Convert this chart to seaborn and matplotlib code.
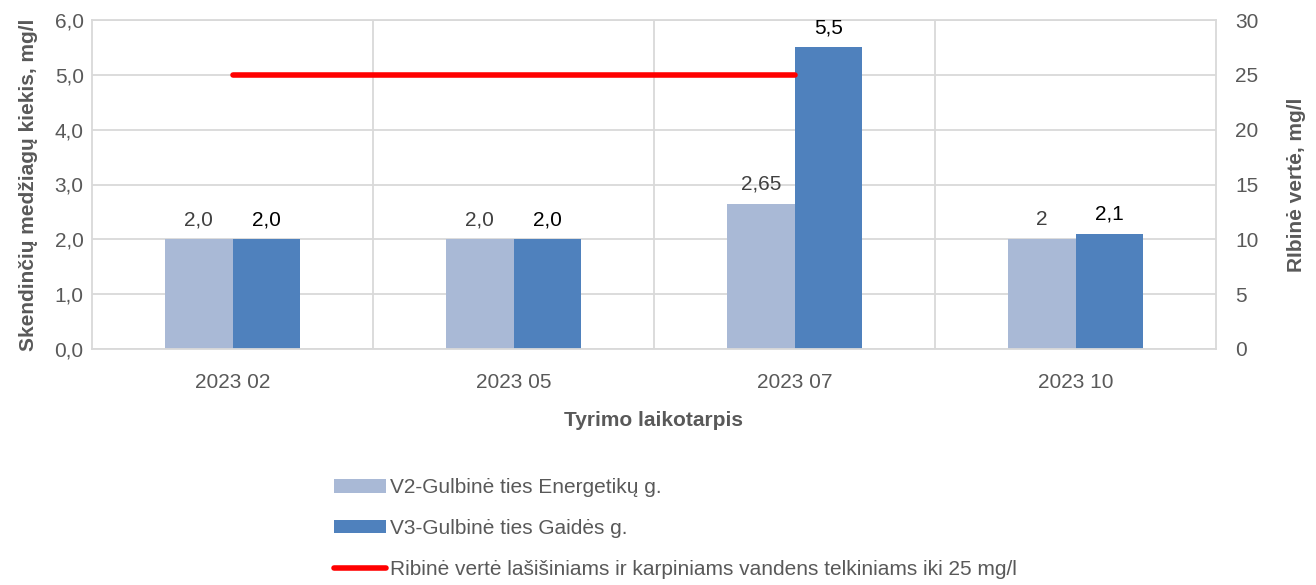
import numpy as np
import pandas as pd
import matplotlib
matplotlib.use("Agg")
import matplotlib.pyplot as plt
import seaborn as sns
from matplotlib.patches import Patch
from matplotlib.lines import Line2D

# data
periods = ['2023 02', '2023 05', '2023 07', '2023 10']
v2_values = [2.0, 2.0, 2.65, 2.0]
v3_values = [2.0, 2.0, 5.5, 2.1]
v2_labels = ['2,0', '2,0', '2,65', '2']
v3_labels = ['2,0', '2,0', '5,5', '2,1']
limit_values = [25, 25, 25, np.nan]

series_names = ['V2-Gulbinė ties Energetikų g.', 'V3-Gulbinė ties Gaidės g.']
limit_name = 'Ribinė vertė lašišiniams ir karpiniams vandens telkiniams iki 25 mg/l'

df = pd.DataFrame({
    'Period': periods * 2,
    'Value': v2_values + v3_values,
    'Series': [series_names[0]] * 4 + [series_names[1]] * 4,
})

sns.set_theme(style='white')
plt.rcParams['font.family'] = ['Liberation Sans', 'DejaVu Sans']

text_col = '#595959'
grid_col = '#d9d9d9'
colors = ['#a9b9d6', '#4f81bd']
fs = 15

fig = plt.figure(figsize=(13.16, 5.85), dpi=100)
ax = fig.add_axes([92 / 1316, 1 - 349 / 585, (1216 - 92) / 1316, (349 - 20) / 585])

sns.barplot(data=df, x='Period', y='Value', hue='Series', palette=colors,
            width=0.48, saturation=1, linewidth=0, ax=ax, legend=False)

ax.set_xlim(-0.5, 3.5)
ax.set_ylim(0, 6)
ax.set_yticks(np.arange(0, 6.1, 1))
ax.set_yticklabels([f'{v:.1f}'.replace('.', ',') for v in np.arange(0, 6.1, 1)])
ax.set_axisbelow(True)
ax.yaxis.grid(True, color=grid_col, linewidth=1.3)
for xv in [0.5, 1.5, 2.5]:
    ax.axvline(xv, color=grid_col, linewidth=1.3, zorder=0)
for s in ax.spines.values():
    s.set_color(grid_col)
    s.set_linewidth(1.3)
ax.tick_params(axis='both', length=0, labelsize=fs, colors=text_col, pad=6)
ax.tick_params(axis='x', pad=17)

ax.set_xlabel('Tyrimo laikotarpis', fontsize=fs, fontweight='bold', color=text_col, labelpad=14)
ax.set_ylabel('Skendinčių medžiagų kiekis, mg/l', fontsize=fs, fontweight='bold', color=text_col, labelpad=12)

# value labels
for i, (a, b) in enumerate(zip(v2_values, v3_values)):
    ax.text(i - 0.12, a + 0.18, v2_labels[i], ha='center', va='bottom', fontsize=fs, color='#404040')
    ax.text(i + 0.12, b + 0.18, v3_labels[i], ha='center', va='bottom', fontsize=fs, color='black')

# secondary axis with the limit line
ax2 = ax.twinx()
sns.lineplot(x=list(range(len(periods))), y=limit_values, color='#ff0000', linewidth=4,
             ax=ax2, legend=False)
for ln in ax2.lines:
    ln.set_solid_capstyle('round')
ax2.set_ylim(0, 30)
ax2.set_yticks(range(0, 31, 5))
ax2.tick_params(axis='y', length=0, labelsize=fs, colors=text_col, pad=14)
ax2.set_ylabel('RIbinė vertė, mg/l', fontsize=fs, fontweight='bold', color=text_col, labelpad=20)
for s in ax2.spines.values():
    s.set_visible(False)

handles = [
    Patch(facecolor=colors[0], edgecolor='none'),
    Patch(facecolor=colors[1], edgecolor='none'),
    Line2D([0], [0], color='#ff0000', linewidth=4, solid_capstyle='round'),
]
leg = fig.legend(handles, series_names + [limit_name], loc='upper left',
                 bbox_to_anchor=(326 / 1316, 1 - 470 / 585), frameon=False,
                 fontsize=fs, handlelength=2.5, handleheight=0.6, handletextpad=0.15,
                 labelspacing=1.05, borderaxespad=0)
for t in leg.get_texts():
    t.set_color(text_col)

fig.savefig('out.png', dpi=100)
